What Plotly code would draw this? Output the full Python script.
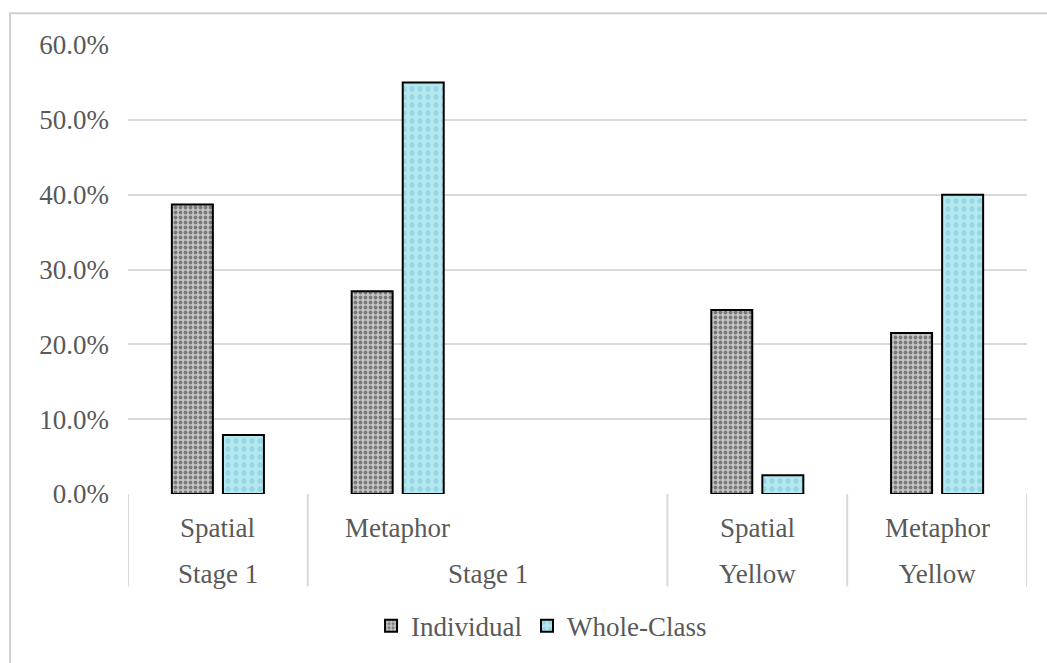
import plotly.graph_objects as go

# Category slots along the x axis (slot 2 is an empty spacer)
slot_index = [0, 1, 2, 3, 4]
level1_labels = ["Spatial", "Metaphor", "", "Spatial", "Metaphor"]
level2_groups = [("Stage 1", 0, 0), ("Stage 1", 1, 2), ("Yellow", 3, 3), ("Yellow", 4, 4)]
divider_slots = [0, 1, 3, 4, 5]  # left edges of the label cells (+ right edge)

individual = [0.387, 0.271, None, 0.246, 0.215]
whole_class = [0.079, 0.550, None, 0.025, 0.400]

y_ticks = [0.0, 0.1, 0.2, 0.3, 0.4, 0.5, 0.6]

FONT = "Liberation Serif, Times New Roman, serif"
FS = 27
TEXT = "#595959"
GRID = "#d9d9d9"

fig = go.Figure()
fig.add_trace(go.Bar(
    name="Individual", x=slot_index, y=individual,
    marker=dict(
        color="#b4b4b4",
        line=dict(color="#000000", width=2),
        pattern=dict(shape=".", bgcolor="#c6c6c6", fgcolor="#7a7a7a",
                     size=5, solidity=0.45, fillmode="replace"),
    ),
))
fig.add_trace(go.Bar(
    name="Whole-Class", x=slot_index, y=whole_class,
    marker=dict(
        color="#b0e6ee",
        line=dict(color="#000000", width=2),
        pattern=dict(shape=".", bgcolor="#b4e8f0", fgcolor="#98d6e1",
                     size=8, solidity=0.35, fillmode="replace"),
    ),
))

# plot-area geometry (pixels) used to place the category table
L, R, T, B = 128, 20, 45, 166
W, H = 1047, 663
ph = H - T - B
pw = W - L - R


def py(pix):
    return (H - B - pix) / ph


def px(pix):
    return (pix - L) / pw


shapes = []
annotations = []

# vertical dividers of the two-level category table
for s in divider_slots:
    shapes.append(dict(type="line", xref="x", yref="paper",
                       x0=s - 0.5, x1=s - 0.5, y0=0, y1=py(590),
                       line=dict(color=GRID, width=2)))

for i, lab in zip(slot_index, level1_labels):
    if lab:
        annotations.append(dict(x=i, y=py(531), xref="x", yref="paper",
                                xanchor="center", yanchor="middle",
                                text=lab, showarrow=False,
                                font=dict(family=FONT, size=FS, color=TEXT)))
for lab, a, b in level2_groups:
    annotations.append(dict(x=(a + b) / 2, y=py(578), xref="x", yref="paper",
                            xanchor="center", yanchor="middle",
                            text=lab, showarrow=False,
                            font=dict(family=FONT, size=FS, color=TEXT)))

# outer chart frame
shapes.append(dict(type="rect", xref="paper", yref="paper",
                   x0=px(10), x1=px(1060), y0=py(13), y1=py(680),
                   line=dict(color="#d0d0d0", width=2), layer="below"))

fig.update_layout(
    width=W, height=H,
    margin=dict(l=L, r=R, t=T, b=B),
    paper_bgcolor="white", plot_bgcolor="white",
    barmode="group", bargap=0.432, bargroupgap=0.197,
    font=dict(family=FONT, size=FS, color=TEXT),
    showlegend=True,
    legend=dict(orientation="h", x=0.46, xanchor="center",
                y=py(630), yanchor="middle",
                font=dict(family=FONT, size=FS, color=TEXT),
                itemclick=False),
    shapes=shapes,
    annotations=annotations,
)
fig.update_xaxes(range=[-0.5, 4.5], showticklabels=False, showgrid=False,
                 zeroline=False, showline=False, ticks="")
fig.update_yaxes(range=[0, 0.6], tickvals=y_ticks, tickformat=".1%",
                 showgrid=True, gridcolor=GRID, gridwidth=1.5,
                 zeroline=False, showline=False, ticks="",
                 ticklabelstandoff=18,
                 tickfont=dict(family=FONT, size=FS, color=TEXT))

fig.write_html("out.html")
